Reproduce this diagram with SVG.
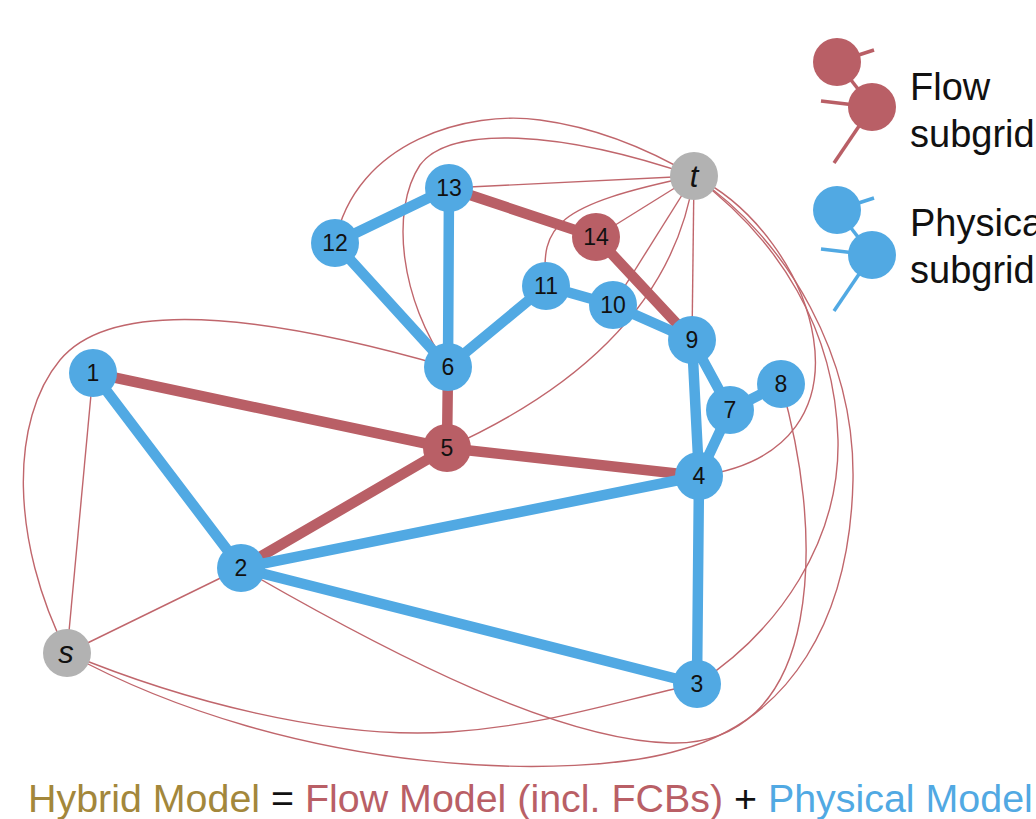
<svg xmlns="http://www.w3.org/2000/svg" width="1036" height="819" viewBox="0 0 1036 819">
  <style>
    .thin { fill: none; stroke: #C0666C; stroke-width: 1.4; }
    .fb { fill: none; stroke: #51A9E3; stroke-width: 10.5; stroke-linecap: round; }
    .fr { fill: none; stroke: #B95F66; stroke-width: 10.5; stroke-linecap: round; }
    .nb { fill: #51A9E3; }
    .nr { fill: #B95F66; }
    .ng { fill: #B2B2B2; }
    .lbl { font-family: "Liberation Sans", Arial, sans-serif; font-size: 23px; fill: #111; text-anchor: middle; }
    .term { font-family: "Liberation Sans", Arial, sans-serif; font-size: 31px; font-style: italic; fill: #111; text-anchor: middle; }
    .leg { font-family: "Liberation Sans", Arial, sans-serif; font-size: 38px; fill: #111; }
    .cap { font-family: "Liberation Sans", Arial, sans-serif; font-size: 39.4px; }
    .lsb { stroke: #51A9E3; stroke-width: 3.5; }
    .lsr { stroke: #B95F66; stroke-width: 3.5; }
  </style>

  <!-- connectors: thin arcs first, thick subgrid edges on top -->
  <g id="connectors">
    <g id="thin-edges">
      <path class="thin" d="M449,188 L694,176"/>
      <path class="thin" d="M596,237 L694,176"/>
      <path class="thin" d="M613,305 L694,176"/>
      <path class="thin" d="M692,340 L694,176"/>
      <path class="thin" d="M694,176 C680,270 620,370 447,448"/>
      <path class="thin" d="M546,286 C540,225 555,205 694,176"/>
      <path class="thin" d="M448,367 C400,300 390,210 420,165 C450,125 560,130 694,176"/>
      <path class="thin" d="M335,243 C355,140 470,110 540,120 C600,128 650,150 694,176"/>
      <path class="thin" d="M694,176 C815,235 890,450 699,476"/>
      <path class="thin" d="M694,176 C780,240 835,330 838,440 C840,540 780,630 697,684"/>
      <path class="thin" d="M694,176 C790,240 855,360 853,480 C850,620 790,720 680,750 C580,780 300,780 67,653"/>
      <path class="thin" d="M781,384 C800,450 815,540 800,620 C785,700 740,745 670,743 C560,740 400,660 241,568"/>
      <path class="thin" d="M67,653 C180,700 330,740 450,732 C550,725 620,700 697,684"/>
      <path class="thin" d="M67,653 L93,373"/>
      <path class="thin" d="M67,653 L241,568"/>
      <path class="thin" d="M67,653 C10,540 10,420 60,360 C110,300 250,310 448,367"/>
    </g>
    <g id="flow-edges">
      <path class="fr" d="M449,188 L596,237"/>
      <path class="fr" d="M596,237 L692,340"/>
      <path class="fr" d="M448,367 L447,448"/>
      <path class="fr" d="M93,373 L447,448"/>
      <path class="fr" d="M447,448 L699,476"/>
      <path class="fr" d="M447,448 L241,568"/>
    </g>
    <g id="physical-edges">
      <path class="fb" d="M335,243 L449,188"/>
      <path class="fb" d="M335,243 L448,367"/>
      <path class="fb" d="M449,188 L448,367"/>
      <path class="fb" d="M448,367 L546,286"/>
      <path class="fb" d="M546,286 L613,305"/>
      <path class="fb" d="M613,305 L692,340"/>
      <path class="fb" d="M692,340 L730,410"/>
      <path class="fb" d="M692,340 L699,476"/>
      <path class="fb" d="M730,410 L781,384"/>
      <path class="fb" d="M730,410 L699,476"/>
      <path class="fb" d="M93,373 L241,568"/>
      <path class="fb" d="M241,568 L699,476"/>
      <path class="fb" d="M241,568 L697,684"/>
      <path class="fb" d="M699,476 L697,684"/>
    </g>
  </g>

  <!-- nodes -->
  <g id="node-t"><circle class="ng" cx="694" cy="176" r="24"/><text class="term" x="694" y="187">t</text></g>
  <g id="node-s"><circle class="ng" cx="67" cy="653" r="24"/><text class="term" x="66" y="663">s</text></g>
  <g id="node-1"><circle class="nb" cx="93" cy="373" r="24"/><text class="lbl" x="93" y="381">1</text></g>
  <g id="node-2"><circle class="nb" cx="241" cy="568" r="24"/><text class="lbl" x="241" y="576">2</text></g>
  <g id="node-3"><circle class="nb" cx="697" cy="684" r="24"/><text class="lbl" x="697" y="692">3</text></g>
  <g id="node-4"><circle class="nb" cx="699" cy="476" r="24"/><text class="lbl" x="699" y="484">4</text></g>
  <g id="node-5"><circle class="nr" cx="447" cy="448" r="24"/><text class="lbl" x="447" y="456">5</text></g>
  <g id="node-6"><circle class="nb" cx="448" cy="367" r="24"/><text class="lbl" x="448" y="375">6</text></g>
  <g id="node-7"><circle class="nb" cx="730" cy="410" r="24"/><text class="lbl" x="730" y="418">7</text></g>
  <g id="node-8"><circle class="nb" cx="781" cy="384" r="24"/><text class="lbl" x="781" y="392">8</text></g>
  <g id="node-9"><circle class="nb" cx="692" cy="340" r="24"/><text class="lbl" x="692" y="348">9</text></g>
  <g id="node-10"><circle class="nb" cx="613" cy="305" r="24"/><text class="lbl" x="613" y="313">10</text></g>
  <g id="node-11"><circle class="nb" cx="546" cy="286" r="24"/><text class="lbl" x="546" y="294">11</text></g>
  <g id="node-12"><circle class="nb" cx="335" cy="243" r="24"/><text class="lbl" x="335" y="251">12</text></g>
  <g id="node-13"><circle class="nb" cx="449" cy="188" r="24"/><text class="lbl" x="449" y="196">13</text></g>
  <g id="node-14"><circle class="nr" cx="596" cy="237" r="24"/><text class="lbl" x="596" y="245">14</text></g>

  <!-- legend -->
  <g id="legend-flow">
    <line class="lsr" x1="837" y1="62" x2="874" y2="50"/>
    <line class="lsr" x1="837" y1="62" x2="872" y2="107"/>
    <line class="lsr" x1="821" y1="101" x2="872" y2="107"/>
    <line class="lsr" x1="872" y1="107" x2="834" y2="163"/>
    <circle class="nr" cx="837" cy="62" r="24"/>
    <circle class="nr" cx="872" cy="107" r="24"/>
    <text class="leg" x="910" y="100">Flow</text>
    <text class="leg" x="910" y="147">subgrid</text>
  </g>
  <g id="legend-physical">
    <line class="lsb" x1="837" y1="210" x2="874" y2="198"/>
    <line class="lsb" x1="837" y1="210" x2="872" y2="255"/>
    <line class="lsb" x1="821" y1="249" x2="872" y2="255"/>
    <line class="lsb" x1="872" y1="255" x2="834" y2="311"/>
    <circle class="nb" cx="837" cy="210" r="24"/>
    <circle class="nb" cx="872" cy="255" r="24"/>
    <text class="leg" x="910" y="236">Physical</text>
    <text class="leg" x="910" y="283">subgrid</text>
  </g>

  <!-- caption -->
  <text class="cap" x="28" y="812"><tspan fill="#A3873B">Hybrid Model</tspan><tspan fill="#111"> = </tspan><tspan fill="#B95F66">Flow Model (incl. FCBs)</tspan><tspan fill="#111"> + </tspan><tspan fill="#51A9E3">Physical Model</tspan></text>
</svg>
